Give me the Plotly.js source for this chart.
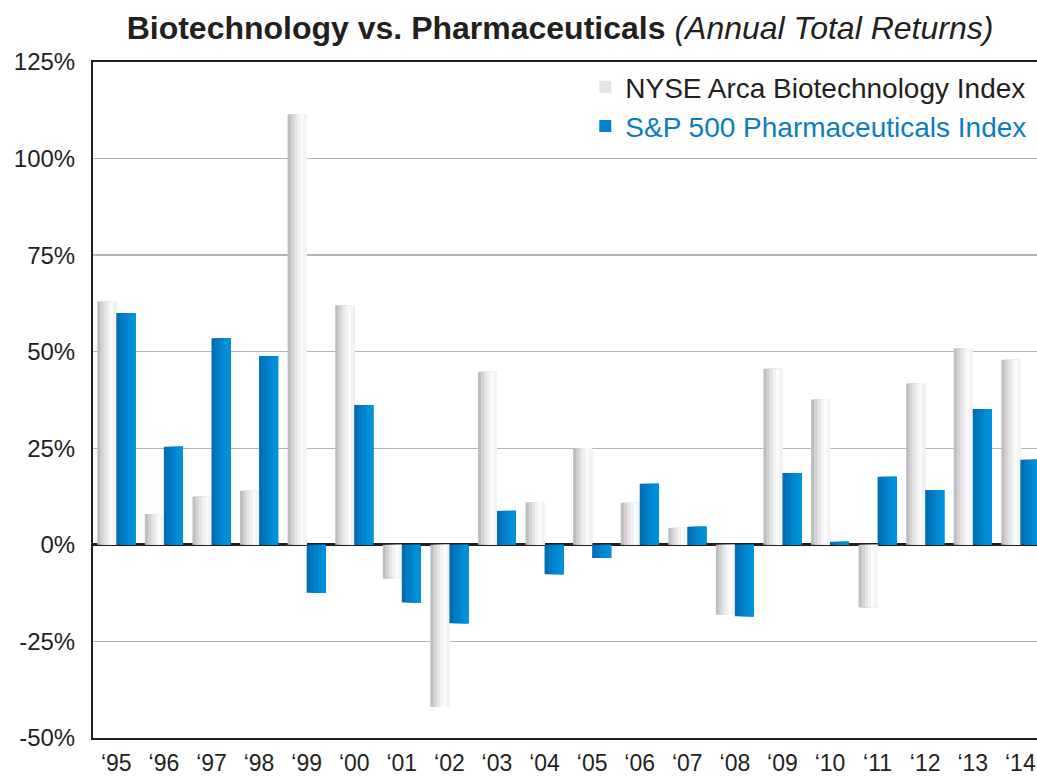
<!DOCTYPE html>
<html>
<head>
<meta charset="utf-8">
<script src="https://cdn.plot.ly/plotly-3.0.1.min.js"></script>
<style>html,body{margin:0;padding:0;background:#fff;}#chart{width:1037px;height:777px;}</style>
</head>
<body>
<div id="chart"></div>
<script>
const years = ["‘95","‘96","‘97","‘98","‘99","‘00","‘01","‘02","‘03","‘04","‘05","‘06","‘07","‘08","‘09","‘10","‘11","‘12","‘13","‘14"];
const biotech = [63, 8, 12.5, 14, 111.5, 62, -8.8, -42, 44.8, 11, 25, 10.9, 4.4, -18.1, 45.6, 37.6, -16.2, 41.8, 50.9, 47.9];
const pharma = [60, 25.4, 53.5, 48.9, -12.4, 36.2, -14.9, -20.3, 8.8, -7.6, -3.4, 15.8, 4.7, -18.5, 18.6, 0.8, 17.6, 14.2, 35.2, 22.0];
const tickVals = [-50, -25, 0, 25, 50, 75, 100, 125];
const tickText = ["-50%", "-25%", "0%", "25%", "50%", "75%", "100%", "125%"];

const biotechName = 'NYSE Arca Biotechnology Index';
const pharmaName = '<span style="color:#0a7dc2">S&amp;P 500 Pharmaceuticals Index</span>';

// gradient simulated by narrow overlapping strips (later strips drawn on top)
const bioShades = ['#bfbfc3','#d3d3d6','#e4e4e6','#f1f1f2','#fbfbfb','#f3f3f4'];
const phShades = ['#0070b6','#0079c1','#0083cc','#008cd4','#0091d8'];
const barW = 0.4;
const traces = [];
bioShades.forEach((c, i) => {
  const step = barW / bioShades.length;
  traces.push({
    type: 'bar', x: years, y: biotech, name: biotechName,
    offset: -barW + i * step, width: barW - i * step,
    marker: {color: c, line: {width: 0}},
    showlegend: i === 2, legendgroup: 'bio', hoverinfo: 'skip'
  });
});
phShades.forEach((c, i) => {
  const step = barW / phShades.length;
  traces.push({
    type: 'bar', x: years, y: pharma, name: pharmaName,
    offset: i * step, width: barW - i * step,
    marker: {color: c, line: {width: 0}},
    showlegend: i === 2, legendgroup: 'ph', hoverinfo: 'skip'
  });
});

const layout = {
  width: 1037, height: 777,
  margin: {l: 93, r: 0, t: 62, b: 39},
  paper_bgcolor: '#ffffff', plot_bgcolor: '#ffffff',
  barmode: 'overlay',
  font: {family: 'Liberation Sans, Arial, sans-serif', color: '#231f20'},
  title: {
    text: '<b>Biotechnology vs. Pharmaceuticals</b> <i>(Annual Total Returns)</i>',
    font: {size: 32, color: '#231f20'},
    x: (560 - 93) / 944, xref: 'paper', xanchor: 'center', y: 1 - 28 / 777, yanchor: 'middle'
  },
  xaxis: {
    type: 'category', range: [-0.49, 19.35],
    showgrid: false, zeroline: false,
    showline: true, mirror: true, linecolor: '#231f20', linewidth: 2,
    ticks: '', ticklabelstandoff: 3,
    tickfont: {family: 'Liberation Sans Narrow, Liberation Sans, Arial, sans-serif', size: 23, color: '#231f20'}
  },
  yaxis: {
    range: [-50, 125], tickvals: tickVals, ticktext: tickText,
    showgrid: true, gridcolor: '#b5b5b9', gridwidth: 1.5,
    zeroline: true, zerolinecolor: '#231f20', zerolinewidth: 3,
    showline: true, linecolor: '#231f20', linewidth: 2,
    ticks: '', ticklabelstandoff: 11,
    tickfont: {size: 24, color: '#231f20'}
  },
  legend: {
    x: 0.995, xanchor: 'right', y: 1.0, yanchor: 'top',
    bgcolor: 'rgba(255,255,255,0)', font: {size: 28, color: '#231f20'},
    traceorder: 'normal', itemwidth: 30
  },
  showlegend: true
};

Plotly.newPlot('chart', traces, layout, {displayModeBar: false, staticPlot: true});
</script>
</body>
</html>
